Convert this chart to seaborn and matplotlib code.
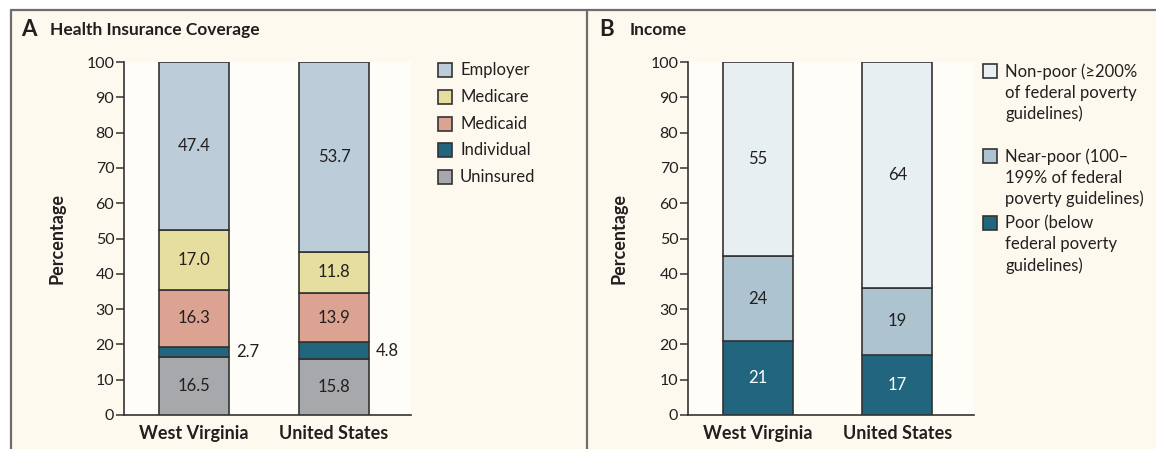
import numpy as np
import pandas as pd
import matplotlib
matplotlib.use('Agg')
import matplotlib.pyplot as plt
import seaborn as sns
from matplotlib.patches import Rectangle
from matplotlib.lines import Line2D

# data
states = ['West Virginia', 'United States']

# panel A, stacked bottom to top
coverage_types = ['Uninsured', 'Individual', 'Medicaid', 'Medicare', 'Employer']
uninsured = [16.5, 15.8]
individual = [2.7, 4.8]
medicaid = [16.3, 13.9]
medicare = [17.0, 11.8]
employer = [47.4, 53.7]

# panel B, stacked bottom to top
income_groups = ['Poor (below\nfederal poverty\nguidelines)',
                 'Near-poor (100\u2013\n199% of federal\npoverty guidelines)',
                 'Non-poor (\u2265200%\nof federal poverty\nguidelines)']
poor = [21, 17]
near_poor = [24, 19]
non_poor = [55, 64]

coverage_colors = ['#a7a8ac', '#21657f', '#dca393', '#e6de9f', '#bccdd9']
income_colors = ['#21657f', '#adc3cf', '#e8eff3']

W, H = 1156, 449
TEXT = '#231f20'
EDGE = '#333333'
CREAM = '#fdf9ee'

sns.set_style('ticks')
plt.rcParams['font.family'] = ['Lato', 'DejaVu Sans']
plt.rcParams['text.color'] = TEXT


def fx(x):
    return x / W


def fy(y):
    return 1 - y / H


def stacked_bars(ax, series, colors, fmt, side=None, light_text=()):
    bottom = np.zeros(len(states))
    for k, (vals, col) in enumerate(zip(series, colors)):
        df = pd.DataFrame({'state': states, 'value': vals})
        sns.barplot(data=df, x='state', y='value', bottom=bottom, color=col,
                    saturation=1, width=0.5, edgecolor=EDGE, linewidth=1.2,
                    ax=ax, zorder=3)
        for i, v in enumerate(vals):
            c = 'white' if k in light_text else TEXT
            if side == k:
                ax.text(i + 0.3, bottom[i] + v / 2, fmt.format(v), ha='left',
                        va='center', fontsize=12, color=TEXT)
            else:
                ax.text(i, bottom[i] + v / 2, fmt.format(v), ha='center',
                        va='center', fontsize=12, color=c, zorder=4)
        bottom = bottom + np.array(vals)


def style_axes(ax):
    ax.set_xlim(-0.5, 1.55)
    ax.set_ylim(0, 100)
    ax.set_yticks(range(0, 101, 10))
    ax.set_facecolor('#fffdf8')
    sns.despine(ax=ax)
    for s in ['left', 'bottom']:
        ax.spines[s].set_color(EDGE)
        ax.spines[s].set_linewidth(1.2)
    ax.tick_params(axis='y', length=6, width=1.1, color=EDGE, labelsize=11.5,
                   labelcolor=TEXT, pad=1)
    ax.tick_params(axis='x', length=0, labelsize=13, labelcolor=TEXT, pad=7)
    for t in ax.get_xticklabels():
        t.set_fontweight('bold')
    ax.set_xlabel('')
    ax.set_ylabel('Percentage', fontsize=13, fontweight='bold', color=TEXT)


def legend_key(fig, x, y, color, label):
    # square of 14 px, first text line centred on y
    fig.patches.append(Rectangle((fx(x), fy(y + 7)), fx(14), 14 / H,
                                 transform=fig.transFigure, facecolor=color,
                                 edgecolor=EDGE, linewidth=1.2))
    fig.text(fx(x + 22), fy(y - 8), label, ha='left', va='top',
             fontsize=12, linespacing=1.38, color=TEXT)


fig = plt.figure(figsize=(W / 100, H / 100), dpi=100)
fig.patch.set_facecolor('white')
fig.patches.append(Rectangle((fx(11), 0), 1 - fx(11), fy(10),
                             transform=fig.transFigure, facecolor=CREAM,
                             edgecolor='none', zorder=-5))
for line in [([fx(11), 1], [fy(10), fy(10)]),
             ([fx(11), fx(11)], [0, fy(10)]),
             ([fx(587), fx(587)], [0, fy(10)])]:
    fig.add_artist(Line2D(line[0], line[1], transform=fig.transFigure,
                          color='#6d6d6d', linewidth=1.6))

ax_a = fig.add_axes([fx(124), fy(415), fx(411 - 124), (415 - 62) / H])
ax_b = fig.add_axes([fx(688), fy(415), fx(974 - 688), (415 - 62) / H])

stacked_bars(ax_a, [uninsured, individual, medicaid, medicare, employer],
             coverage_colors, '{:.1f}', side=1)
stacked_bars(ax_b, [poor, near_poor, non_poor], income_colors, '{:d}',
             light_text=(0,))

for ax in [ax_a, ax_b]:
    style_axes(ax)
ax_a.yaxis.set_label_coords(-0.205, 0.5)
ax_b.yaxis.set_label_coords(-0.21, 0.5)

# panel titles
fig.text(fx(21), fy(30), 'A', fontsize=16, fontweight='bold', va='center')
fig.text(fx(50), fy(30), 'Health Insurance Coverage', fontsize=12.5,
         fontweight='bold', va='center')
fig.text(fx(599), fy(30), 'B', fontsize=16, fontweight='bold', va='center')
fig.text(fx(630), fy(30), 'Income', fontsize=12.5, fontweight='bold',
         va='center')

# legends, top entry first
for y, name, col in zip([70, 97, 124, 150, 177], coverage_types[::-1],
                        coverage_colors[::-1]):
    legend_key(fig, 438, y, col, name)
for y, name, col in zip([71, 156, 223], income_groups[::-1],
                        income_colors[::-1]):
    legend_key(fig, 983, y, col, name)

fig.savefig('out.png', dpi=100)
